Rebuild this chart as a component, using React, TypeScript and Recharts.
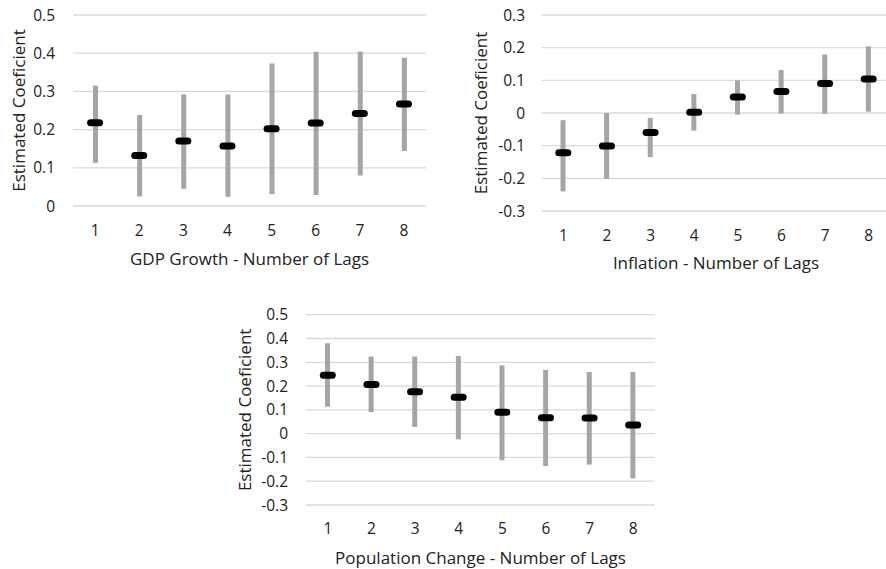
import { ReactNode } from 'react';
import { Bar, CartesianGrid, ComposedChart, Line, XAxis, YAxis } from 'recharts';

const lags = ['1', '2', '3', '4', '5', '6', '7', '8'];

const gdpCoef = [0.218, 0.132, 0.17, 0.157, 0.202, 0.217, 0.242, 0.267];
const gdpLow = [0.113, 0.025, 0.045, 0.024, 0.031, 0.029, 0.08, 0.144];
const gdpHigh = [0.315, 0.238, 0.292, 0.292, 0.373, 0.404, 0.404, 0.388];
const gdpTicks = [0, 0.1, 0.2, 0.3, 0.4, 0.5];

const infCoef = [-0.122, -0.101, -0.06, 0.002, 0.049, 0.066, 0.09, 0.104];
const infLow = [-0.24, -0.202, -0.135, -0.054, -0.005, -0.002, -0.002, 0.004];
const infHigh = [-0.022, 0.0, -0.015, 0.058, 0.1, 0.132, 0.179, 0.204];
const infTicks = [-0.3, -0.2, -0.1, 0, 0.1, 0.2, 0.3];

const popCoef = [0.245, 0.207, 0.176, 0.153, 0.09, 0.067, 0.066, 0.036];
const popLow = [0.113, 0.091, 0.028, -0.024, -0.112, -0.136, -0.13, -0.188];
const popHigh = [0.38, 0.324, 0.324, 0.326, 0.287, 0.268, 0.259, 0.259];
const popTicks = [-0.3, -0.2, -0.1, 0, 0.1, 0.2, 0.3, 0.4, 0.5];

const FONT = '"Open Sans", sans-serif';
const TEXT = '#222222';

function buildRows(coef: number[], low: number[], high: number[]) {
  return lags.map((lag, i) => ({ lag, coef: coef[i], range: [low[i], high[i]] }));
}

function Marker(props: any): ReactNode {
  const { cx, cy } = props;
  if (cx == null || cy == null) return null;
  return <rect x={cx - 8} y={cy - 3.5} width={16} height={7} rx={3.5} fill="#000" />;
}

interface PanelProps {
  left: number;
  top: number;
  width: number;
  height: number;
  marginTop: number;
  marginRight: number;
  yAxisWidth: number;
  xAxisHeight: number;
  yTickMargin: number;
  xTickMargin: number;
  yTitleX: number;
  xTitleOffset: number;
  ticks: number[];
  rows: any[];
  xTitle: string;
}

function Panel(p: PanelProps): ReactNode {
  const plotTop = p.marginTop;
  const plotBottom = p.height - p.xAxisHeight;
  const plotLeft = p.yAxisWidth;
  const plotRight = p.width - p.marginRight;
  return (
    <div style={{ position: 'absolute', left: p.left, top: p.top, width: p.width, height: p.height }}>
      <ComposedChart
        width={p.width}
        height={p.height}
        data={p.rows}
        margin={{ top: p.marginTop, right: p.marginRight, left: 0, bottom: 0 }}
      >
        <CartesianGrid vertical={false} stroke="#d9d9d9" strokeWidth={1.3} />
        <XAxis
          dataKey="lag"
          type="category"
          axisLine={false}
          tickLine={false}
          height={p.xAxisHeight}
          tickMargin={p.xTickMargin}
          tick={{ fill: TEXT, fontSize: 15.5, fontFamily: FONT }}
          label={() => (
            <text
              x={(plotLeft + plotRight) / 2}
              y={plotBottom + p.xTitleOffset}
              textAnchor="middle"
              dominantBaseline="central"
              fill={TEXT}
              fontSize={17}
              fontFamily={FONT}
            >
              {p.xTitle}
            </text>
          )}
        />
        <YAxis
          type="number"
          domain={[p.ticks[0], p.ticks[p.ticks.length - 1]]}
          ticks={p.ticks}
          interval={0}
          width={p.yAxisWidth}
          axisLine={false}
          tickLine={false}
          tickMargin={p.yTickMargin}
          tickFormatter={(v: number) => String(v)}
          tick={{ fill: TEXT, fontSize: 15.5, fontFamily: FONT }}
          label={() => {
            const cy = (plotTop + plotBottom) / 2;
            return (
              <text
                x={p.yTitleX}
                y={cy}
                transform={`rotate(-90, ${p.yTitleX}, ${cy})`}
                textAnchor="middle"
                dominantBaseline="central"
                fill={TEXT}
                fontSize={17}
                fontFamily={FONT}
              >
                Estimated Coeficient
              </text>
            );
          }}
        />
        <Bar dataKey="range" fill="#a5a5a5" barSize={5} isAnimationActive={false} />
        <Line
          dataKey="coef"
          stroke="none"
          strokeWidth={0}
          dot={<Marker />}
          activeDot={false}
          isAnimationActive={false}
        />
      </ComposedChart>
    </div>
  );
}

export default function App(): ReactNode {
  return (
    <div
      style={{
        position: 'absolute',
        left: 0,
        top: 0,
        width: 886,
        height: 569,
        overflow: 'hidden',
        background: '#fff'
      }}
    >
      <Panel
        left={0}
        top={0}
        width={440}
        height={275}
        marginTop={15}
        marginRight={14}
        yAxisWidth={73}
        xAxisHeight={69}
        yTickMargin={12}
        xTickMargin={13}
        yTitleX={18}
        xTitleOffset={52}
        ticks={gdpTicks}
        rows={buildRows(gdpCoef, gdpLow, gdpHigh)}
        xTitle="GDP Growth - Number of Lags"
      />
      <Panel
        left={441}
        top={0}
        width={450}
        height={276}
        marginTop={15}
        marginRight={0.5}
        yAxisWidth={100.5}
        xAxisHeight={65}
        yTickMargin={10.5}
        xTickMargin={13}
        yTitleX={39}
        xTitleOffset={51}
        ticks={infTicks}
        rows={buildRows(infCoef, infLow, infHigh)}
        xTitle="Inflation - Number of Lags"
      />
      <Panel
        left={220}
        top={290}
        width={440}
        height={279}
        marginTop={24.7}
        marginRight={5}
        yAxisWidth={86}
        xAxisHeight={64}
        yTickMargin={12}
        xTickMargin={12}
        yTitleX={25}
        xTitleOffset={52}
        ticks={popTicks}
        rows={buildRows(popCoef, popLow, popHigh)}
        xTitle="Population Change - Number of Lags"
      />
    </div>
  );
}
